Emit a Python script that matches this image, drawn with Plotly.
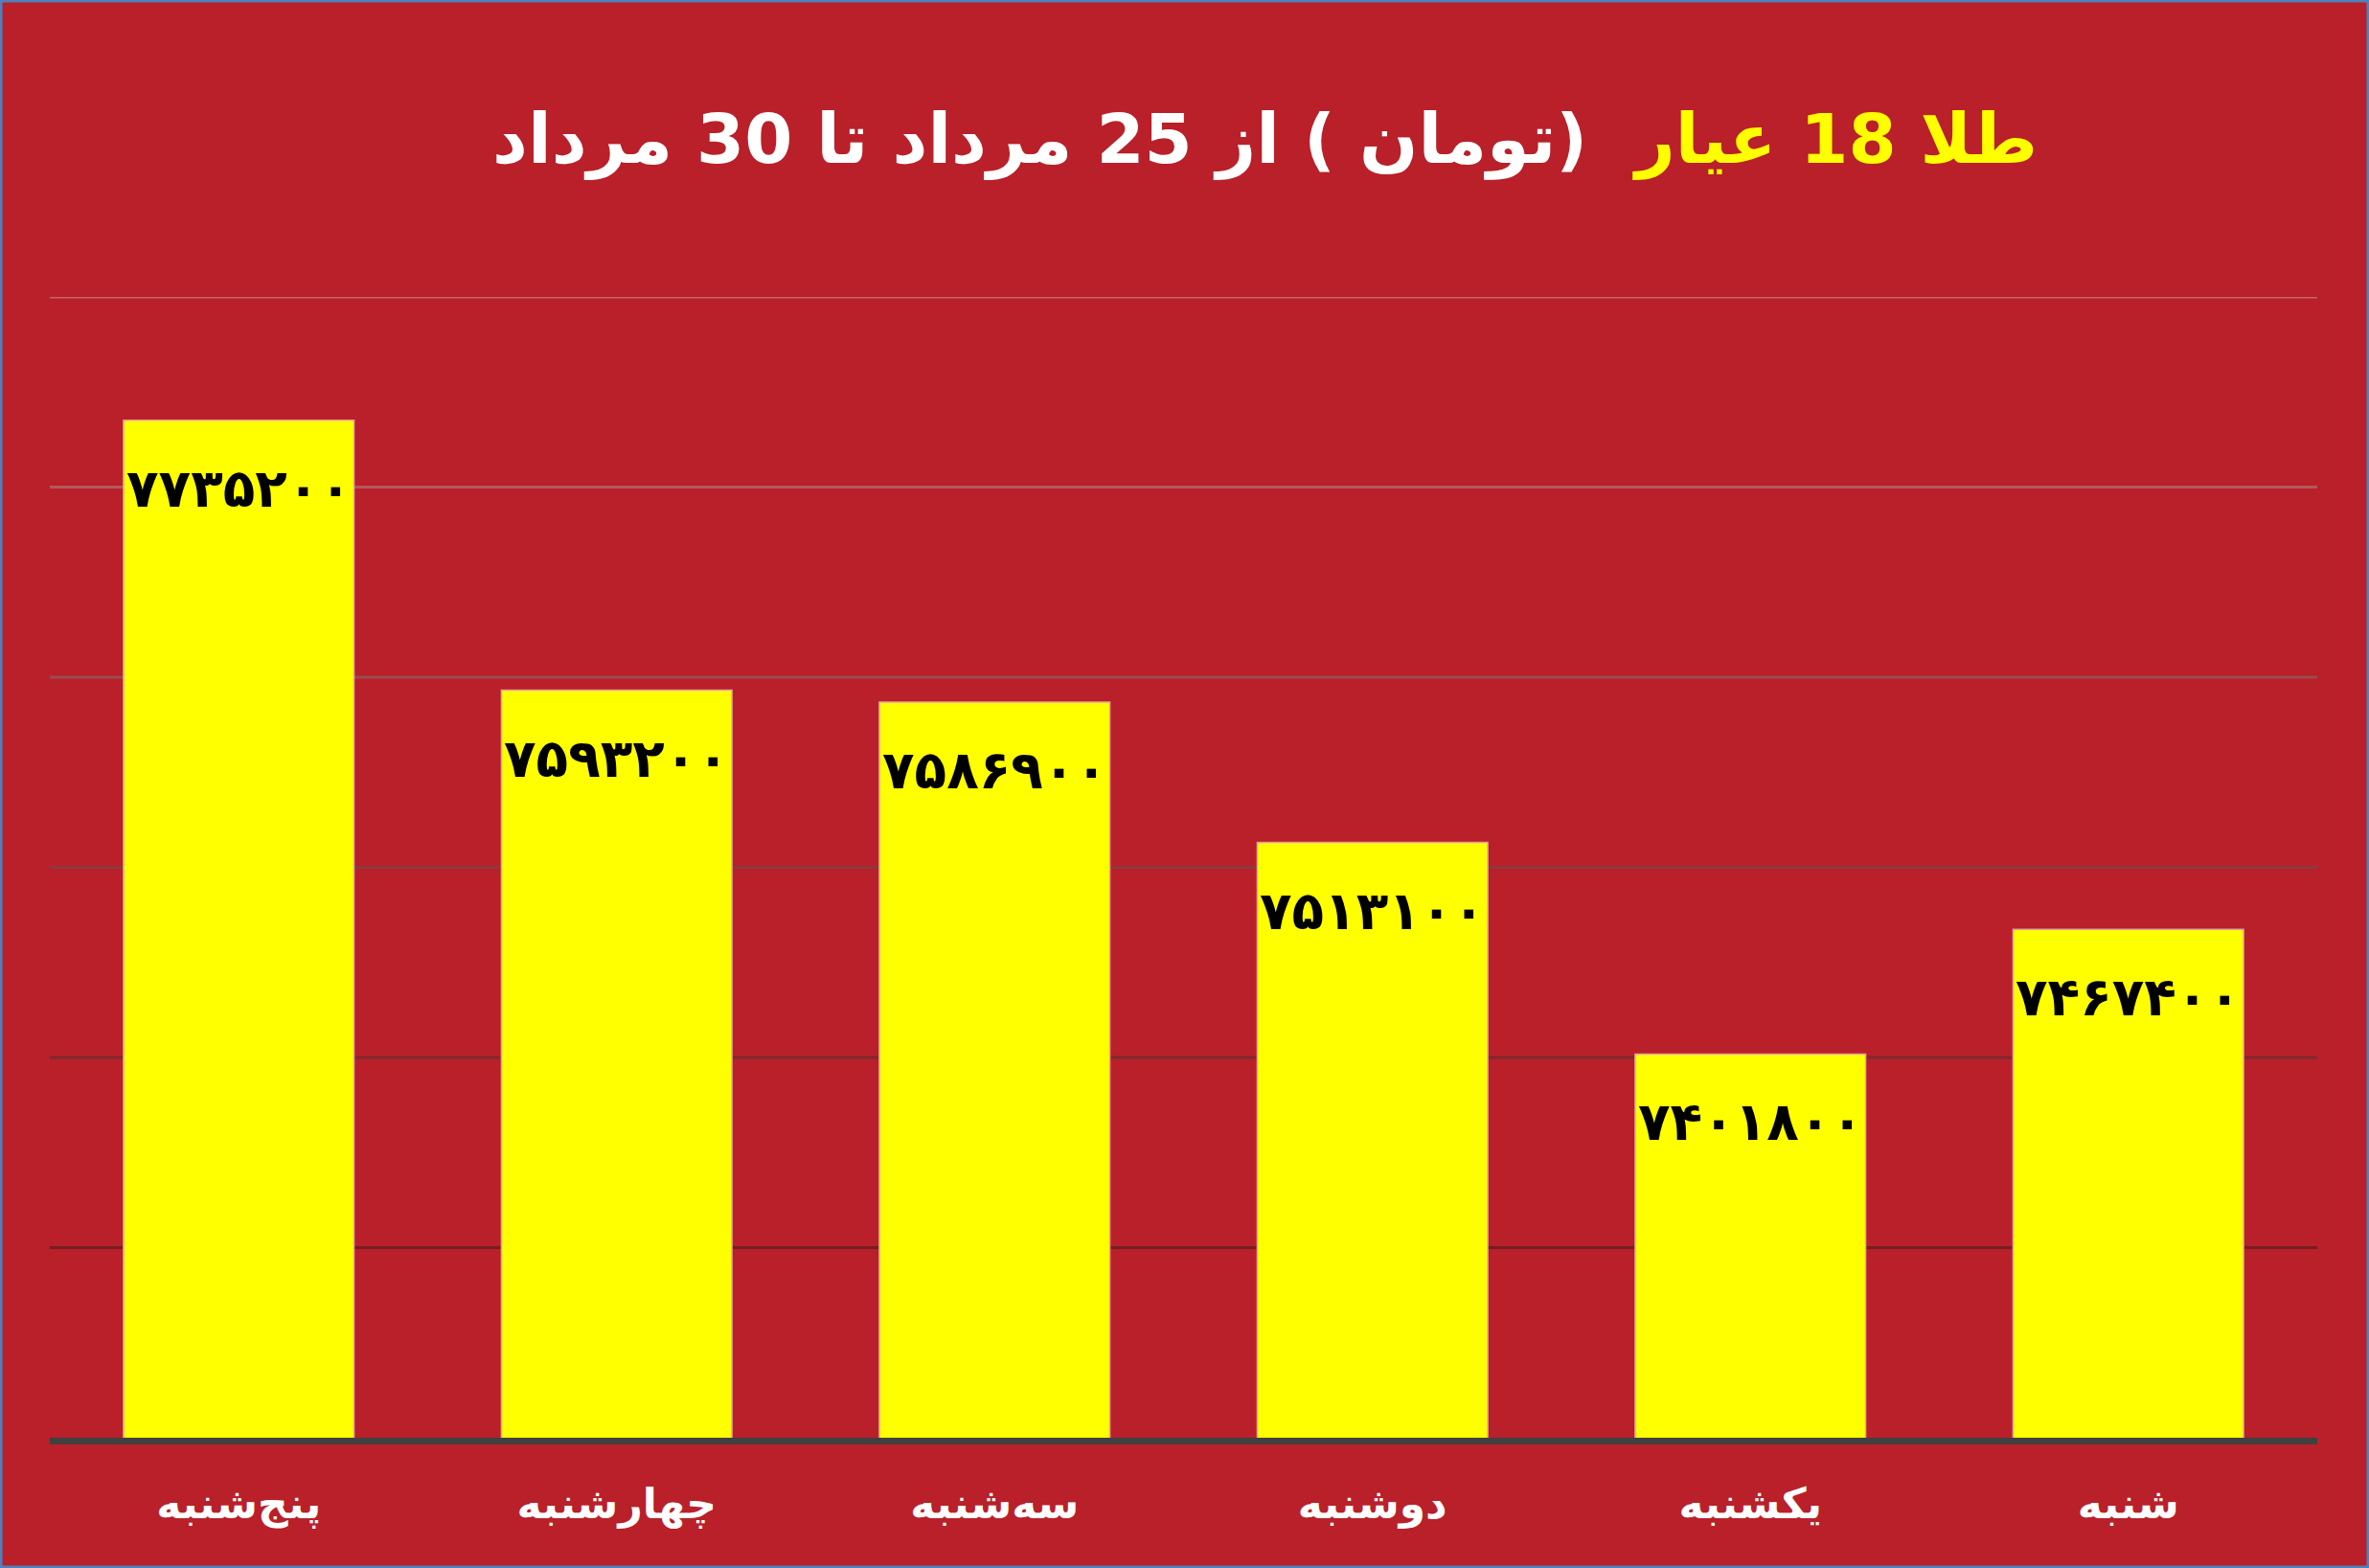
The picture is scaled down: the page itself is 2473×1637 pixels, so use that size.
import plotly.graph_objects as go

# روزهای هفته (از چپ به راست) و قیمت طلای ۱۸ عیار به تومان
days = ['پنج\u200cشنبه', 'چهارشنبه', 'سه\u200cشنبه', 'دوشنبه', 'یکشنبه', 'شنبه']
prices = [7735200, 7593200, 7586900, 7513100, 7401800, 7467400]

grid_values = [7300000, 7400000, 7500000, 7600000, 7700000, 7800000]
grid_colors = ['#761d23', '#7f282e', '#8c393f', '#9c4a50', '#b2585f', '#c2636a']

fa_digits = str.maketrans('0123456789', '۰۱۲۳۴۵۶۷۸۹')
labels = [str(p).translate(fa_digits) for p in prices]

bg = '#b92029'

fig = go.Figure()
fig.add_trace(go.Bar(x=days, y=prices,
                     marker=dict(color='#ffff00', line=dict(color='#e8a0a4', width=1.5)),
                     hoverinfo='skip'))

# خطوط راهنما با رنگ‌های متفاوت
for v, c in zip(grid_values, grid_colors):
    fig.add_hline(y=v, line=dict(color=c, width=3), layer='below')

# برچسب مقادیر داخل ستون‌ها
for d, p, t in zip(days, prices, labels):
    fig.add_annotation(x=d, y=p, text='<b>' + t + '</b>', showarrow=False,
                       yanchor='middle', yshift=-71,
                       font=dict(family='DejaVu Sans', size=55, color='black'))

# قاب آبی دور تصویر
fig.add_shape(type='rect', xref='paper', yref='paper', x0=-52 / 2367, x1=1 + 54 / 2367,
              y0=-136 / 1191, y1=1 + 310 / 1191, line=dict(color='#4f81bd', width=5))

fig.update_layout(
    width=2473, height=1637,
    paper_bgcolor=bg, plot_bgcolor=bg,
    margin=dict(l=52, r=54, t=310, b=136),
    bargap=0.39,
    showlegend=False,
    title=dict(text="<b><span style='color:#ffff00'>طلا 18 عیار</span>  (تومان ) از 25 مرداد تا 30 مرداد</b>",
               x=0.534, xanchor='center', y=1 - 145 / 1637, yanchor='middle', yref='container',
               font=dict(family='DejaVu Sans', size=72, color='white')),
    xaxis=dict(showgrid=False, zeroline=False, showline=True, linecolor='#404040', linewidth=7,
               ticks='', ticklabelstandoff=24,
               tickprefix='<b>', ticksuffix='</b>',
               tickfont=dict(family='DejaVu Sans', size=44, color='white')),
    yaxis=dict(range=[7200000, 7800000], showgrid=False, zeroline=False, showticklabels=False),
)

fig.write_html("out.html", config={'displayModeBar': False},
               post_script="document.body.style.margin='0';")
